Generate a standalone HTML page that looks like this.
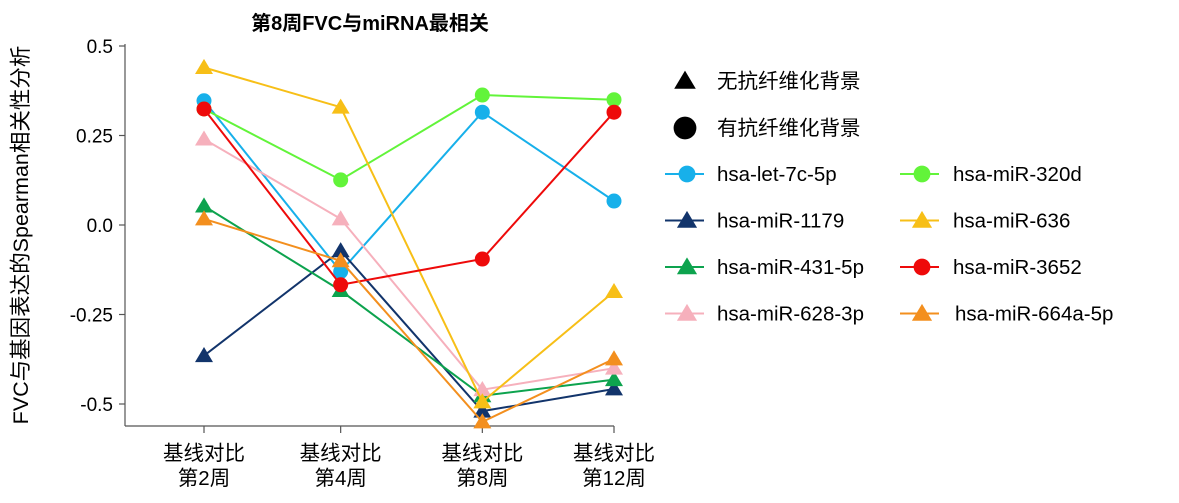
<!DOCTYPE html>
<html><head><meta charset="utf-8">
<style>
html,body{margin:0;padding:0;background:#fff;}
svg{display:block;font-family:"Liberation Sans","Noto Sans CJK SC",sans-serif;}
</style></head>
<body>
<svg id="chart" width="1179" height="503" viewBox="0 0 1179 503" xmlns="http://www.w3.org/2000/svg">
<text x="370" y="30" text-anchor="middle" font-size="20" font-weight="bold">第8周FVC与miRNA最相关</text>
<text transform="translate(28,235) rotate(-90)" text-anchor="middle" font-size="21.5">FVC与基因表达的Spearman相关性分析</text>
<g id="axes"></g>
<g id="series"></g>
<g id="legend"></g>
</svg>
<script>
const categories = [["基线对比","第2周"],["基线对比","第4周"],["基线对比","第8周"],["基线对比","第12周"]];
const yTicks = [0.5, 0.25, 0.0, -0.25, -0.5];
const yTickLabels = ["0.5","0.25","0.0","-0.25","-0.5"];
const seriesNames = ["hsa-let-7c-5p","hsa-miR-1179","hsa-miR-431-5p","hsa-miR-628-3p","hsa-miR-320d","hsa-miR-636","hsa-miR-3652","hsa-miR-664a-5p"];
const seriesColors = ["#17b0ea","#12346b","#0da34e","#f6b0bc","#62f43a","#f7bf17","#ee0a0a","#f38f1e"];
const seriesShapes = ["circle","triangle","triangle","triangle","circle","triangle","circle","triangle"];
const vLet7c = [0.347,-0.13,0.315,0.067];
const v1179 = [-0.365,-0.072,-0.52,-0.458];
const v431 = [0.053,-0.183,-0.477,-0.432];
const v628 = [0.24,0.017,-0.46,-0.40];
const v320d = [0.324,0.126,0.363,0.35];
const v636 = [0.44,0.329,-0.494,-0.186];
const v3652 = [0.324,-0.167,-0.095,0.315];
const v664a = [0.017,-0.10,-0.55,-0.374];
const seriesValues = [vLet7c,v1179,v431,v628,v320d,v636,v3652,v664a];

const NS="http://www.w3.org/2000/svg";
const xPos = i => 204 + i*(614-204)/3 + (i===2?5:0);
const yPos = v => 225 - v*358;
function mk(tag, attrs, parent){const e=document.createElementNS(NS,tag);for(const k in attrs)e.setAttribute(k,attrs[k]);parent.appendChild(e);return e;}
const axes=document.getElementById('axes');
let yl=mk('line',{x1:125,y1:44,x2:125,y2:426,stroke:'#555','stroke-width':1.2},axes);


let xl=mk('line',{x1:125,y1:426,x2:614,y2:426,stroke:'#555','stroke-width':1.2},axes);


yTicks.forEach((t,i)=>{
  const y=yPos(t);
  const tk=mk('line',{x1:119,y1:y,x2:125,y2:y,stroke:'#555','stroke-width':1.2},axes);
  
  
  const tx=mk('text',{x:113,y:y+7,'text-anchor':'end','font-size':19},axes);
  tx.textContent=yTickLabels[i];
  
  
});
categories.forEach((c,i)=>{
  const x=xPos(i);
  const tk=mk('line',{x1:x,y1:426,x2:x,y2:433,stroke:'#555','stroke-width':1.2},axes);
  
  
  const t1=mk('text',{x:x,y:460,'text-anchor':'middle','font-size':20.5},axes);
  t1.textContent=c[0];
  
  
  const t2=mk('text',{x:x,y:485,'text-anchor':'middle','font-size':20.5},axes);
  t2.textContent=c[1];
  
  
});
function marker(shape,x,y,color,parent,size){
  if(shape==='circle'){return mk('circle',{cx:x,cy:y,r:size*0.6,fill:color},parent);}
  const h=size*1.15,w=size*0.72;
  return mk('polygon',{points:`${x},${y-h*0.6} ${x-w},${y+h*0.45} ${x+w},${y+h*0.45}`,fill:color},parent);
}
const sg=document.getElementById('series');
seriesValues.forEach((vals,s)=>{
  const g=mk('g',{},sg);
  
  
  const pts=vals.map((v,i)=>xPos(i)+','+yPos(v)).join(' ');
  const pl=mk('polyline',{points:pts,fill:'none',stroke:seriesColors[s],'stroke-width':2},g);
  
  
  vals.forEach((v,i)=>{
    const m=marker(seriesShapes[s],xPos(i),yPos(v),seriesColors[s],g,12.5);
    
    
  });
});
const lg=document.getElementById('legend');
const h1=mk('g',{},lg);


marker('triangle',685,81,'#000',h1,15);
const ht1=mk('text',{x:717,y:88,'font-size':20.5},h1);ht1.textContent='无抗纤维化背景';
const h2=mk('g',{},lg);


marker('circle',685,128,'#000',h2,19);
const ht2=mk('text',{x:717,y:135,'font-size':20.5},h2);ht2.textContent='有抗纤维化背景';
seriesNames.forEach((n,s)=>{
  const col=s<4?0:1, row=s%4;
  const mx=col===0?687:922, y=174+row*46.5;
  const g=mk('g',{},lg);
  
  
  mk('line',{x1:mx-22,y1:y,x2:mx+17,y2:y,stroke:seriesColors[s],'stroke-width':2},g);
  marker(seriesShapes[s],mx,y,seriesColors[s],g,14);
  const t=mk('text',{x:col===0?717:(s===7?955:953),y:y+7,'font-size':20.5},g);
  t.textContent=n;
});
</script>
</body></html>
